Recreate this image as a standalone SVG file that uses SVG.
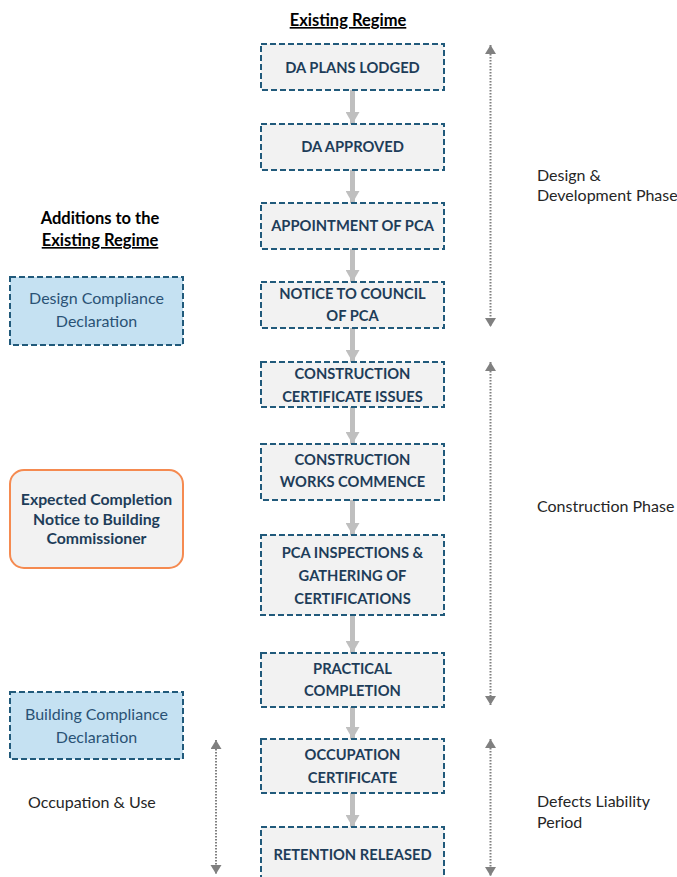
<svg xmlns="http://www.w3.org/2000/svg" width="677" height="877" viewBox="0 0 677 877">
<style>
.box{fill:#F2F2F2;stroke:#215A7B;stroke-width:2;stroke-dasharray:6 3}
.blue{fill:#C5E1F2;stroke:#215A7B;stroke-width:2;stroke-dasharray:6 3}
.orange{fill:#F2F2F2;stroke:#F58A50;stroke-width:2}
.bt{font-family:Lato,"Liberation Sans",sans-serif;font-weight:bold;font-size:14.7px;fill:#1E3D59;text-anchor:middle}
.ot{font-family:Lato,"Liberation Sans",sans-serif;font-weight:bold;font-size:15.8px;fill:#1E3D59;text-anchor:middle}
.lt{font-family:Lato,"Liberation Sans",sans-serif;font-size:16px;fill:#2A5275;text-anchor:middle}
.hd{font-family:Lato,"Liberation Sans",sans-serif;font-weight:bold;font-size:16.5px;fill:#000;text-anchor:middle}
.lab{font-family:Lato,"Liberation Sans",sans-serif;font-size:16px;fill:#262626}
.flow{stroke:#BFBFBF;stroke-width:5;fill:none}
.dot{stroke:#808080;stroke-width:2;stroke-dasharray:1.5 1.5;fill:none}
</style>
<defs>
<marker id="fh" markerUnits="userSpaceOnUse" markerWidth="16" markerHeight="14" refX="12" refY="7" orient="auto">
<path d="M0,0 L12,7 L0,14 Z" fill="#BFBFBF"/>
</marker>
<marker id="dh" markerUnits="userSpaceOnUse" markerWidth="12" markerHeight="12" refX="9" refY="5.5" orient="auto-start-reverse">
<path d="M0,0 L9,5.5 L0,11 Z" fill="#808080"/>
</marker>
</defs>
<rect width="677" height="877" fill="#FFFFFF"/>

<text class="hd" x="348" y="26" text-decoration="underline">Existing Regime</text>
<text class="hd" x="100" y="224">Additions to the</text>
<text class="hd" x="100" y="246" text-decoration="underline">Existing Regime</text>

<g id="connectors">
<line class="flow" x1="352.5" y1="90" x2="352.5" y2="124" marker-end="url(#fh)"/>
<line class="flow" x1="352.5" y1="170" x2="352.5" y2="203" marker-end="url(#fh)"/>
<line class="flow" x1="352.5" y1="249" x2="352.5" y2="282" marker-end="url(#fh)"/>
<line class="flow" x1="352.5" y1="328" x2="352.5" y2="362" marker-end="url(#fh)"/>
<line class="flow" x1="352.5" y1="407" x2="352.5" y2="444" marker-end="url(#fh)"/>
<line class="flow" x1="352.5" y1="500" x2="352.5" y2="535" marker-end="url(#fh)"/>
<line class="flow" x1="352.5" y1="615" x2="352.5" y2="653" marker-end="url(#fh)"/>
<line class="flow" x1="352.5" y1="707" x2="352.5" y2="739" marker-end="url(#fh)"/>
<line class="flow" x1="352.5" y1="793" x2="352.5" y2="827" marker-end="url(#fh)"/>
<line class="dot" x1="490.5" y1="45" x2="490.5" y2="327" marker-start="url(#dh)" marker-end="url(#dh)"/>
<line class="dot" x1="490.5" y1="362" x2="490.5" y2="705" marker-start="url(#dh)" marker-end="url(#dh)"/>
<line class="dot" x1="490.5" y1="739" x2="490.5" y2="876" marker-start="url(#dh)" marker-end="url(#dh)"/>
<line class="dot" x1="216" y1="740" x2="216" y2="874" marker-start="url(#dh)" marker-end="url(#dh)"/>
</g>

<g id="n1"><rect class="box" x="261" y="44" width="183" height="46"/><text class="bt" x="352.5" y="73">DA PLANS LODGED</text></g>
<g id="n2"><rect class="box" x="261" y="124" width="183" height="46"/><text class="bt" x="352.5" y="152">DA APPROVED</text></g>
<g id="n3"><rect class="box" x="261" y="203" width="183" height="46"/><text class="bt" x="352.5" y="231">APPOINTMENT OF PCA</text></g>
<g id="n4"><rect class="box" x="261" y="282" width="183" height="46"/><text class="bt" x="352.5" y="299">NOTICE TO COUNCIL</text><text class="bt" x="352.5" y="321">OF PCA</text></g>
<g id="n5"><rect class="box" x="261" y="362" width="183" height="45"/><text class="bt" x="352.5" y="379">CONSTRUCTION</text><text class="bt" x="352.5" y="402">CERTIFICATE ISSUES</text></g>
<g id="n6"><rect class="box" x="261" y="444" width="183" height="56"/><text class="bt" x="352.5" y="465">CONSTRUCTION</text><text class="bt" x="352.5" y="487">WORKS COMMENCE</text></g>
<g id="n7"><rect class="box" x="261" y="535" width="183" height="80"/><text class="bt" x="352.5" y="558">PCA INSPECTIONS &amp;</text><text class="bt" x="352.5" y="581">GATHERING OF</text><text class="bt" x="352.5" y="604">CERTIFICATIONS</text></g>
<g id="n8"><rect class="box" x="261" y="653" width="183" height="54"/><text class="bt" x="352.5" y="674">PRACTICAL</text><text class="bt" x="352.5" y="696">COMPLETION</text></g>
<g id="n9"><rect class="box" x="261" y="739" width="183" height="54"/><text class="bt" x="352.5" y="760">OCCUPATION</text><text class="bt" x="352.5" y="783">CERTIFICATE</text></g>
<g id="n10"><rect class="box" x="261" y="827" width="183" height="60"/><text class="bt" x="352.5" y="860">RETENTION RELEASED</text></g>

<g id="a1"><rect class="blue" x="10" y="277" width="173" height="68"/><text class="lt" x="96.5" y="304">Design Compliance</text><text class="lt" x="96.5" y="327">Declaration</text></g>
<g id="a2"><rect class="orange" x="10" y="470" width="173" height="98" rx="14" ry="14"/><text class="ot" x="96.5" y="505">Expected Completion</text><text class="ot" x="96.5" y="525">Notice to Building</text><text class="ot" x="96.5" y="544">Commissioner</text></g>
<g id="a3"><rect class="blue" x="10" y="692" width="173" height="67"/><text class="lt" x="96.5" y="720">Building Compliance</text><text class="lt" x="96.5" y="743">Declaration</text></g>

<g id="labels">
<text class="lab" x="537" y="181">Design &amp;</text>
<text class="lab" x="537" y="201">Development Phase</text>
<text class="lab" x="537" y="512">Construction Phase</text>
<text class="lab" x="537" y="807">Defects Liability</text>
<text class="lab" x="537" y="828">Period</text>
<text class="lab" x="28" y="808">Occupation &amp; Use</text>
</g>
</svg>
